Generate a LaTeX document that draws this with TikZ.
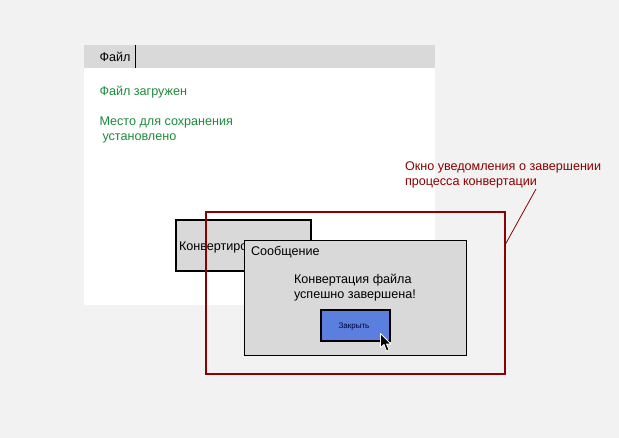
\documentclass[tikz,border=0pt]{standalone}
\usepackage{fontspec}
\setmainfont{Liberation Sans}
\definecolor{bgc}{HTML}{F2F2F2}
\definecolor{panelc}{HTML}{D9D9D9}
\definecolor{greenc}{HTML}{1E8A3C}
\definecolor{redc}{HTML}{8B0000}
\definecolor{bluec}{HTML}{5B7FDE}
\tikzset{
  x=1pt,y=-1pt,
  lbl/.style={anchor=base west,inner sep=0pt,outer sep=0pt,font=\fontsize{12.6}{14}\selectfont},
  box/.style={anchor=north west,inner sep=0pt,outer sep=0pt},
}
\begin{document}
\begin{tikzpicture}
\useasboundingbox (0,0) rectangle (619,438);
\fill[bgc] (0,0) rectangle (619,438);
\fill[white] (84,45) rectangle (435,305);
\fill[panelc] (84,45) rectangle (435,68);
\draw[black,line width=1pt] (135.5,45) -- (135.5,68);
\node[lbl] (file) at (99.5,62) {Файл};
\node[lbl,text=greenc] (t1) at (99.5,95.7) {Файл загружен};
\node[lbl,text=greenc] (t2) at (99.5,125.5) {Место для сохранения};
\node[lbl,text=greenc] (t3) at (102.5,140.7) {установлено};
% convert button
\draw[black,line width=2pt,fill=panelc] (176,220) rectangle (311,271);
\node[lbl] (conv) at (179,250.5) {Конвертировать};
% message box
\draw[black,line width=0.8pt,fill=panelc] (244.5,240.5) rectangle (466.5,355.5);
\node[lbl] (msg) at (251,255.5) {Сообщение};
\node[lbl] (m1) at (294,283.5) {Конвертация файла};
\node[lbl] (m2) at (294,298.5) {успешно завершена!};
\draw[black,line width=2pt,fill=bluec] (321,310) rectangle (390,341);
\node[anchor=center,inner sep=0pt,font=\fontsize{8}{9}\selectfont,text=black!80!blue] (close) at (354,326.5) {Закрыть};
% cursor
\draw[white,line width=0.8pt,fill=black,line join=round]
  (380.5,333.5) -- (380.5,347.5) -- (384,344.5) -- (386.5,351) -- (389,350) -- (386.5,344) -- (391,344) -- cycle;
% highlight frame
\node[box,draw=redc,line width=2pt,minimum width=299pt,minimum height=162pt] (frame) at (206,212) {};
\coordinate (lead) at (536,189);
\draw[redc,line width=0.8pt] (lead) -- (505,245);
\node[lbl,text=redc] (n1) at (405,170.5) {Окно уведомления о завершении};
\node[lbl,text=redc] (n2) at (405,185.5) {процесса конвертации};
\end{tikzpicture}
\end{document}
